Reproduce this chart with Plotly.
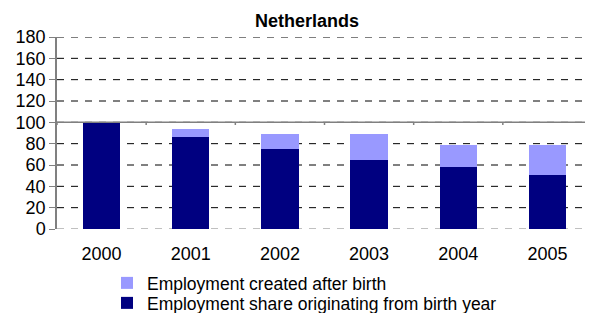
import plotly.graph_objects as go

years = ["2000", "2001", "2002", "2003", "2004", "2005"]
birth_year_share = [100, 86.2, 74.7, 64.7, 58.1, 50.6]
total_employment = [100, 93.4, 88.8, 88.8, 78.4, 78.4]
created_after = [round(t - b, 1) for t, b in zip(total_employment, birth_year_share)]
y_ticks = [0, 20, 40, 60, 80, 100, 120, 140, 160, 180]

FONT = "Liberation Sans, Arial, sans-serif"

# page body has an 8px margin, so the figure is drawn 8px smaller and offset
OFF = 8
W, H = 593 - OFF, 313 - OFF
PL, PR, PT, PB = 57 - OFF, 592 - OFF, 37 - OFF, 229 - OFF  # plot area in figure px
PW, PHt = PR - PL, PB - PT

fig = go.Figure()
fig.add_trace(go.Bar(x=years, y=birth_year_share, name="Employment share originating from birth year",
                     marker=dict(color="#000080", line=dict(width=0)), width=0.42, legend="legend2"))
fig.add_trace(go.Bar(x=years, y=created_after, name="Employment created after birth",
                     marker=dict(color="#9999FF", line=dict(width=0)), width=0.42, legend="legend"))

# dashed gridlines
for v in y_ticks:
    fig.add_shape(type="line", xref="paper", yref="y", x0=0, x1=1, y0=v, y1=v,
                  line=dict(color="#808080" if v == 0 else "black", width=1, dash="7px,7px"),
                  layer="below")

# horizontal category axis crossing at 100
fig.add_shape(type="line", xref="paper", yref="y", x0=0, x1=1, y0=100, y1=100,
              line=dict(color="#808080", width=1.5), layer="above")
for i in range(len(years) + 1):
    fig.add_shape(type="line", xref="x", yref="y", x0=i - 0.5, x1=i - 0.5, y0=100, y1=97.5,
                  line=dict(color="#808080", width=1.5), layer="above")

legend_common = dict(xanchor="left", yanchor="middle", font=dict(family=FONT, size=17.5, color="black"),
                     itemwidth=30, bgcolor="rgba(0,0,0,0)", borderwidth=0)
leg_x = (107 - 57) / PW

fig.update_layout(
    width=W, height=H,
    barmode="stack",
    plot_bgcolor="white", paper_bgcolor="white",
    margin=dict(l=PL, r=W - PR, t=PT, b=H - PB, autoexpand=False),
    title=dict(text="<b>Netherlands</b>", x=(307 - OFF) / W, xanchor="center", xref="container",
               yref="container", y=1 - (21 - OFF) / H, yanchor="middle",
               font=dict(family=FONT, size=18, color="black")),
    font=dict(family=FONT, size=18, color="black"),
    showlegend=True,
    legend=dict(x=leg_x, y=-(283 - 229) / PHt, **legend_common),
    legend2=dict(x=leg_x, y=-(303 - 229) / PHt, **legend_common),
    bargap=0.58,
)
fig.update_xaxes(showgrid=False, showline=False, ticks="", ticklabelstandoff=12,
                 tickfont=dict(family=FONT, size=18), range=[-0.5, 5.5])
fig.update_yaxes(range=[0, 180], tickvals=y_ticks, showgrid=False, zeroline=False, showline=True,
                 linecolor="#808080", linewidth=1.5, ticks="outside", ticklen=6,
                 tickcolor="#808080", tickfont=dict(family=FONT, size=18))

fig.write_html("out.html")
